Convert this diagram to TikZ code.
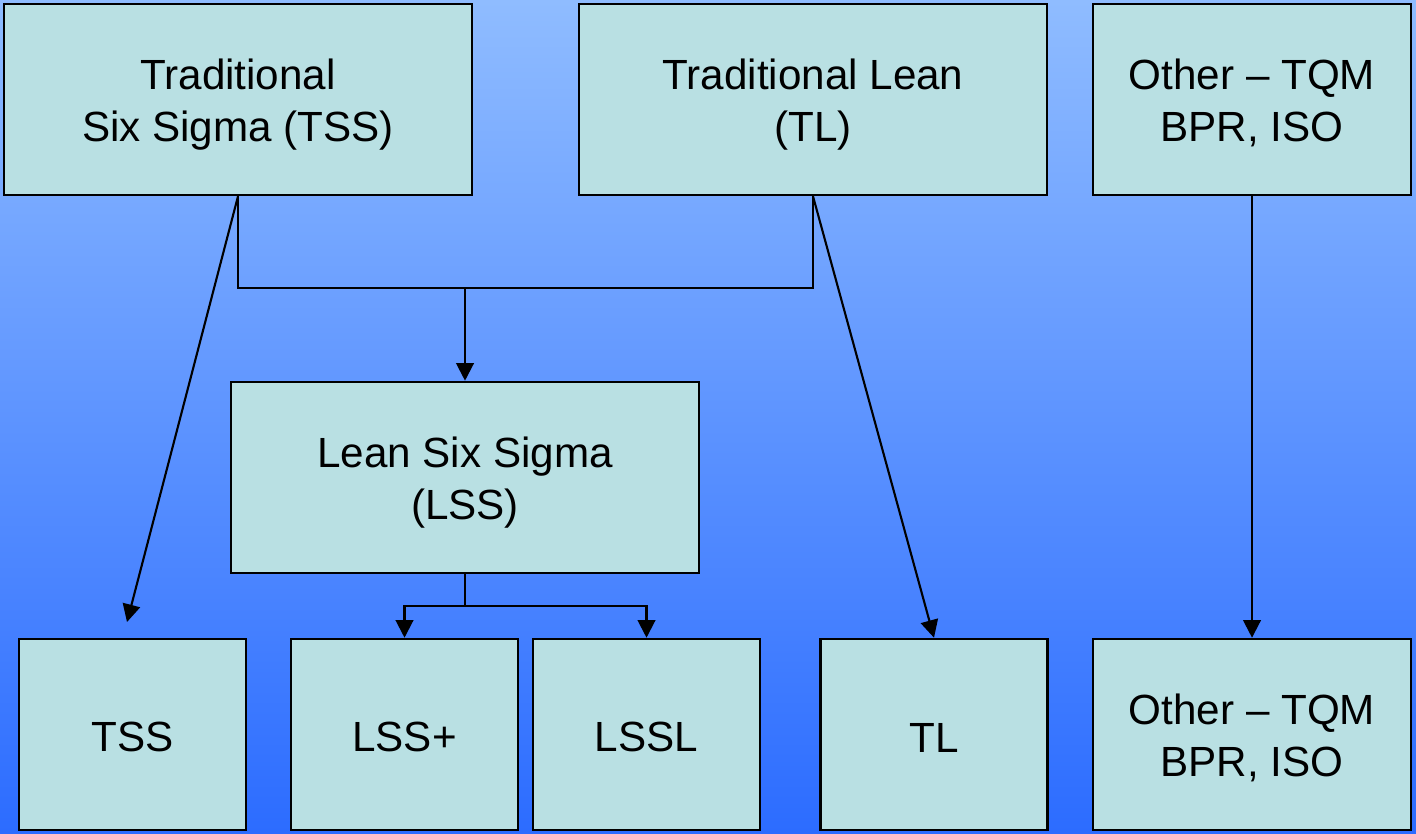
\documentclass[tikz,border=0pt]{standalone}
\usepackage{fontspec}
\setmainfont{Liberation Sans}
\usetikzlibrary{arrows.meta}
\definecolor{bgtop}{RGB}{143,188,255}
\definecolor{bgbottom}{RGB}{44,108,255}
\definecolor{boxfill}{RGB}{185,224,227}
\tikzset{
	box/.style={draw, line width=0.7pt, fill=boxfill, align=center, inner sep=0pt,
		minimum height=1.91cm, text height=10pt, font=\fontsize{12}{14.8}\selectfont},
	two/.style={text height=26.2pt, text depth=2.5pt},
	wide/.style={box, minimum width=4.68cm},
	mid/.style={box, minimum width=3.18cm},
	small/.style={box, minimum width=2.27cm},
	link/.style={line width=0.6pt, -{Triangle[width=5pt,length=5pt]}}
}
\begin{document}
\begin{tikzpicture}[x=0.01cm, y=-0.01cm]
		\shade[top color=bgtop, bottom color=bgbottom] (0,0) rectangle (1416,833);
		\useasboundingbox (0,0) rectangle (1416,833);
		% top row
		\node (tss)[wide, two] at (238,99.5) {Traditional\\Six Sigma (TSS)};
		\node (tl)[wide, two] at (813,99.5) {Traditional Lean\\(TL)};
		\node (oth)[mid, two] at (1252,99.5) {Other -- TQM\\BPR, ISO};
		% middle
		\node (lss)[wide, two] at (465,477.5) {Lean Six Sigma\\(LSS)};
		% bottom row
		\node (b1)[small] at (132.5,734.5) {TSS};
		\node (b2)[small] at (404.5,734.5) {LSS+};
		\node (b3)[small] at (646.5,734.5) {LSSL};
		\node (b4)[small] at (934,734.5) {TL};
		\node (b5)[mid, two] at (1252,734.5) {Other -- TQM\\BPR, ISO};
		\coordinate (j1) at (465,288);
		\coordinate (j2) at (465,606);
		\coordinate (e1) at (127,622);
		\draw [line width=0.6pt](tss.south) |- (j1) -| (tl.south);
		\draw [link](j1)--(lss.north);
		\draw [link](tss.south)--(e1);
		\draw [link](tl.south)--(b4.north);
		\draw [link](oth.south)--(b5.north);
		\draw [line width=0.6pt](lss.south)--(j2);
		\draw [link](j2)-|(b2.north);
		\draw [link](j2)-|(b3.north);
	\end{tikzpicture}
\end{document}
